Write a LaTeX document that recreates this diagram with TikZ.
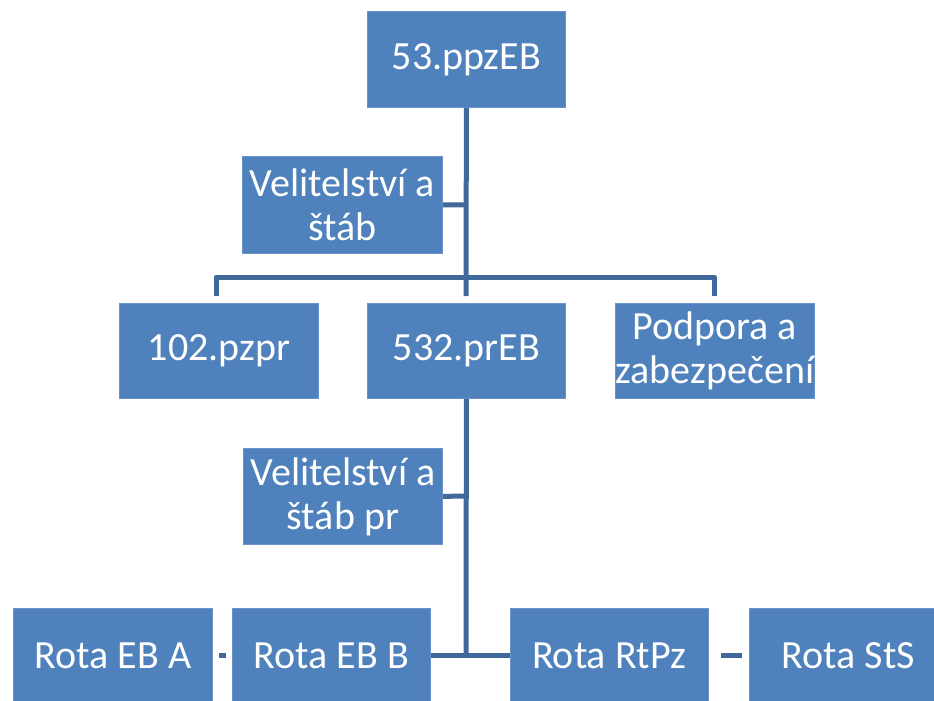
\documentclass[tikz,border=0pt]{standalone}
\usepackage{fontspec}
\setmainfont{Carlito}
\definecolor{boxfill}{HTML}{4F81BD}
\definecolor{boxedge}{HTML}{6A93C8}
\definecolor{linkcol}{HTML}{41689B}
\begin{document}
\begin{tikzpicture}[x=1pt,y=-1pt,
  orgbox/.style={fill=boxfill,draw=boxedge,line width=0.8pt,text=white,inner sep=0pt,
    font=\fontsize{40}{44}\selectfont,align=center},
  link/.style={draw=linkcol,line width=5pt}]
\useasboundingbox (0,0) rectangle (934,701);
\clip (0,0) rectangle (934,701);
\newcommand{\obox}[6]{%
  \node[orgbox,minimum width=#3-#1,minimum height=#4-#2,anchor=north west] (#5) at (#1,#2) {#6};}
\obox{367}{11}{565}{107}{top}{53.ppzEB}
\obox{242}{156}{442}{253}{vs1}{Velitelství a\\štáb}
\obox{119}{303}{318}{398}{pzpr}{102.pzpr}
\obox{367}{303}{565}{398}{preb}{532.prEB}
\obox{615}{303}{814}{398}{podp}{Podpora a\\zabezpečení}
\obox{243}{448}{442}{544}{vs2}{Velitelství a\\štáb pr}
\obox{13}{608}{212}{702}{ra}{Rota EB A}
\obox{232}{608}{430}{702}{rb}{Rota EB B}
\obox{510}{608}{708}{702}{rr}{Rota RtPz}
\obox{749}{608}{947}{702}{rs}{Rota StS}
\coordinate (t2) at (466,655);
\draw[link] (top.south) -- (466,296);
\draw[link] (vs1.east) -- (466,205);
\draw[link,line join=round] (216,296) -- (216,277) -- (714,277) -- (714,296);
\draw[link] (preb.south) -- (t2);
\draw[link] (vs2.east) -- (466,496);
\draw[link] (rb.east) -- (rr.west);
\draw[link] (ra.east) ++(6,0) -- ++(7,0);
\draw[link] (rr.east) ++(12,0) -- ++(21,0);
\end{tikzpicture}
\end{document}
